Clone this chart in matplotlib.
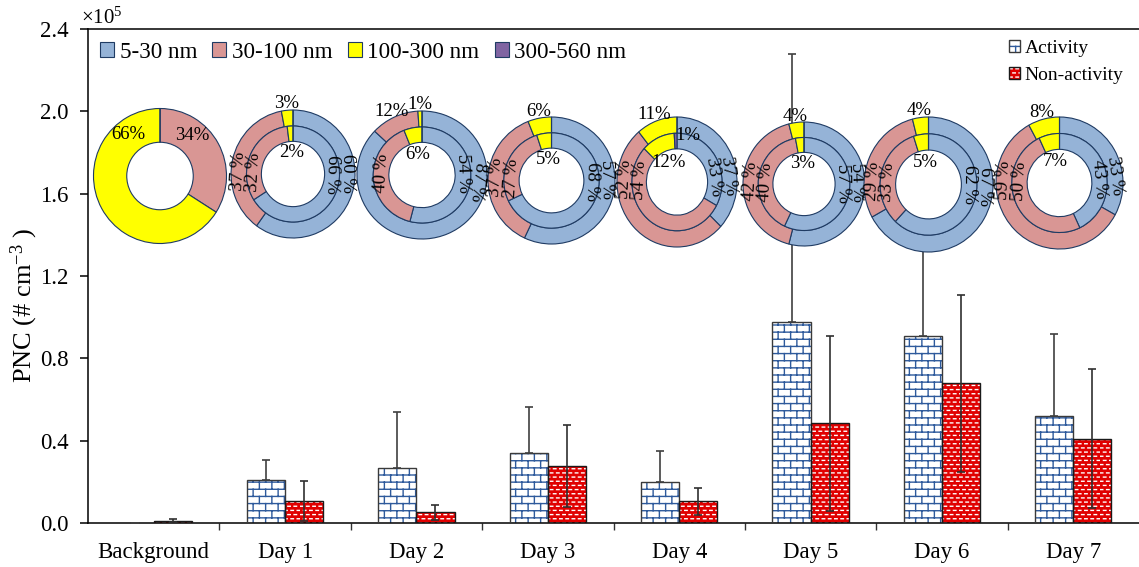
import warnings
import numpy as np
import matplotlib
matplotlib.use('Agg')
import matplotlib.pyplot as plt
from matplotlib import hatch as mhatch
from matplotlib.path import Path
from matplotlib.patches import Patch, Ellipse
from matplotlib.legend_handler import HandlerTuple

warnings.filterwarnings('ignore')

# PNC per day (x10^5 # cm-3), mean and standard deviation
categories = ['Background', 'Day 1', 'Day 2', 'Day 3', 'Day 4', 'Day 5', 'Day 6', 'Day 7']
act_mean = [0.002, 0.21, 0.266, 0.339, 0.20, 0.977, 0.91, 0.52]
act_sd = [0.0, 0.094, 0.274, 0.225, 0.151, 1.30, 0.90, 0.398]
non_mean = [0.012, 0.108, 0.052, 0.276, 0.105, 0.484, 0.68, 0.41]
non_sd = [0.006, 0.096, 0.037, 0.20, 0.067, 0.425, 0.43, 0.338]

# size distribution shares (%): 5-30, 30-100, 100-300, 300-560 nm
size_bins = ['5-30 nm', '30-100 nm', '100-300 nm', '300-560 nm']
bg_share = [0, 34, 66, 0]
outer_share = [[60, 37, 3, 0], [87, 12, 1, 0], [57, 37, 6, 0], [37, 52, 11, 0],
               [54, 42, 4, 0], [67, 29, 4, 0], [33, 59, 8, 0]]
inner_share = [[66, 32, 2, 0], [54, 40, 6, 0], [68, 27, 5, 0], [33, 54, 12, 1],
               [57, 40, 3, 0], [62, 33, 5, 0], [43, 50, 7, 0]]

size_colors = ['#95B3D7', '#D99694', '#FFFF00', '#8064A2']
navy = '#1F3B63'
brick_blue = '#2E5A9C'
red = '#E00000'


# brick and dash fill patterns for the bars
class BrickHatch(mhatch.HatchPatternBase):
    rows, cols = 14, 8

    def __init__(self, hatch, density):
        n, m = self.rows, self.cols
        self.num_vertices = 2 * (n + n * m + m) if 'b' in hatch else 0

    def set_vertices_and_codes(self, vertices, codes):
        n, m = self.rows, self.cols
        ys = (np.arange(n) + 0.5) / n
        segs = [((0.0, y), (1.0, y)) for y in ys]
        for r in range(n):
            lo = ys[r]
            hi = ys[r + 1] if r + 1 < n else 1.0
            xs = (np.arange(m) + 0.25 + 0.5 * (r % 2)) / m
            segs += [((x, lo), (x, hi)) for x in xs]
            if r == n - 1:
                segs += [((x, 0.0), (x, ys[0])) for x in xs]
        vertices[:] = np.array(segs).reshape(-1, 2)
        codes[0::2] = Path.MOVETO
        codes[1::2] = Path.LINETO


class DashHatch(mhatch.HatchPatternBase):
    rows, cols, length = 24, 16, 0.025

    def __init__(self, hatch, density):
        self.num_vertices = 2 * self.rows * self.cols if 'd' in hatch else 0

    def set_vertices_and_codes(self, vertices, codes):
        segs = []
        for r in range(self.rows):
            y = (r + 0.5) / self.rows
            for c in range(self.cols):
                x0 = (c + 0.05 + 0.5 * (r % 2)) / self.cols
                segs.append(((x0, y), (x0 + self.length, y)))
        vertices[:] = np.array(segs).reshape(-1, 2)
        codes[0::2] = Path.MOVETO
        codes[1::2] = Path.LINETO


mhatch._hatch_types.extend([BrickHatch, DashHatch])

plt.rcParams['font.family'] = ['Liberation Serif', 'DejaVu Serif']
plt.rcParams['mathtext.fontset'] = 'custom'
plt.rcParams['mathtext.rm'] = 'Liberation Serif'
plt.rcParams['mathtext.default'] = 'regular'
plt.rcParams['hatch.linewidth'] = 1.0

W, H = 1139, 567
fig = plt.figure(figsize=(W / 100, H / 100), dpi=100)
ax = fig.add_axes([88 / W, 44 / H, (W - 88) / W, 494 / H])

x = np.arange(len(categories))
w = 0.29
n = len(categories)

ax.bar(x - w / 2, act_mean, w, color='white', edgecolor=brick_blue, linewidth=0, hatch='b', zorder=2)
ax.bar(x - w / 2, act_mean, w, facecolor='none', edgecolor='#3a3a3a', linewidth=1.0, zorder=3)
ax.bar(x + w / 2, non_mean, w, color=red, edgecolor='white', linewidth=0, hatch='d', zorder=2)
ax.bar(x + w / 2, non_mean, w, facecolor='none', edgecolor='#1a1a1a', linewidth=1.0, zorder=3)

ax.errorbar(x - w / 2, act_mean, yerr=[np.zeros(n), act_sd], fmt='none', ecolor='#404040',
            elinewidth=1.2, capsize=3, capthick=1.2, zorder=4)
ax.errorbar(x + w / 2, non_mean, yerr=non_sd, fmt='none', ecolor='#303030',
            elinewidth=1.2, capsize=3, capthick=1.2, zorder=4)

ax.set_xlim(-0.5, n - 0.5)
ax.set_ylim(0, 2.4)
ax.set_yticks(np.arange(0, 2.41, 0.4))
ax.set_yticklabels([f'{v:.1f}' for v in np.arange(0, 2.41, 0.4)])
ax.set_xticks(np.arange(0.5, n - 1, 1.0))
ax.set_xticklabels([])
ax.set_xticks(x, minor=True)
ax.set_xticklabels(categories, minor=True)
ax.tick_params(axis='x', which='major', direction='out', length=5, width=1.0, color='#333333')
ax.tick_params(axis='x', which='minor', length=0, pad=14, labelsize=16.5)
ax.tick_params(axis='y', direction='out', length=6, width=1.1, pad=8, labelsize=16.5)
for side in ('left', 'bottom', 'top'):
    ax.spines[side].set_linewidth(1.1)
ax.spines['right'].set_visible(False)

fig.text(24 / W, 1 - 305 / H, 'PNC (# cm$^{-3}$ )', rotation=90, ha='center', va='center', fontsize=19)
fig.text(81 / W, 1 - 24 / H, '×10$^{5}$', ha='left', va='baseline', fontsize=15)

# size-bin legend and bar legend
size_handles = [Patch(facecolor=c, edgecolor=navy, linewidth=0.8) for c in size_colors]
leg1 = ax.legend(size_handles, size_bins, loc='center left', bbox_to_anchor=(0.0114, 0.953),
                 ncol=4, frameon=False, fontsize=16.7, handlelength=0.6, handleheight=0.6,
                 handletextpad=0.25, columnspacing=0.65, borderpad=0, borderaxespad=0)
ax.add_artist(leg1)
act_key = (Patch(facecolor='white', edgecolor=brick_blue, linewidth=0, hatch='b'),
           Patch(facecolor='none', edgecolor='#3a3a3a', linewidth=1.0))
non_key = (Patch(facecolor=red, edgecolor='white', linewidth=0, hatch='d'),
           Patch(facecolor='none', edgecolor='#1a1a1a', linewidth=1.0))
ax.legend([act_key, non_key], ['Activity', 'Non-activity'],
          handler_map={tuple: HandlerTuple(ndivide=1, pad=0)},
          loc='upper left', bbox_to_anchor=((1009 - 88) / 1051, (523 - 40) / 494),
          frameon=False, fontsize=14, handlelength=0.55, handleheight=0.55,
          handletextpad=0.25, labelspacing=0.5, borderpad=0, borderaxespad=0)

# doughnuts: centre and radii in pixels
donut_boxes = [(160, 176, 66.5, 67.5), (293, 174, 62, 64), (422, 175, 65, 64),
               (551.5, 180.5, 63.5, 63.5), (677, 182, 60, 65), (804, 184, 61, 62),
               (928.5, 184.5, 64.5, 67.5), (1059.5, 183, 63.5, 66)]
ring_kw = dict(edgecolor=navy, linewidth=0.8)
label_size = 13.5


def donut_axes(cx, cy, rx, ry):
    a = fig.add_axes([(cx - rx) / W, 1 - (cy + ry) / H, 2 * rx / W, 2 * ry / H])
    return a


def finish(a, hole):
    a.add_patch(Ellipse((0, 0), 2 * hole, 2 * hole, facecolor='white', edgecolor='none', zorder=0))
    a.set_aspect('auto')
    a.set_xlim(-1, 1)
    a.set_ylim(-1, 1)
    a.set_axis_off()


def put(a, r, th, s, rot=0):
    t = np.deg2rad(th)
    a.text(r * np.cos(t), r * np.sin(t), s, ha='center', va='center', rotation=rot,
           rotation_mode='anchor', fontsize=label_size, zorder=5)


bg_ax = donut_axes(*donut_boxes[0])
bg_ax.pie(bg_share, radius=1, startangle=90, counterclock=False, colors=size_colors,
          wedgeprops=dict(width=0.5, **ring_kw))
finish(bg_ax, 0.5)
bg_label_angle = {1: 51, 2: 128}
for k, ang in bg_label_angle.items():
    put(bg_ax, 0.78, ang, f'{bg_share[k]}%')

for d in range(len(outer_share)):
    a = donut_axes(*donut_boxes[d + 1])
    a.pie(outer_share[d], radius=1, startangle=90, counterclock=False, colors=size_colors,
          wedgeprops=dict(width=0.25, **ring_kw))
    a.pie(inner_share[d], radius=0.75, startangle=90, counterclock=False, colors=size_colors,
          wedgeprops=dict(width=0.24, **ring_kw))
    finish(a, 0.51)
    for ring, shares, rmid in (('outer', outer_share[d], 0.875), ('inner', inner_share[d], 0.63)):
        cum = 0
        for k, v in enumerate(shares):
            if v == 0:
                continue
            mid = 90 - 3.6 * (cum + v / 2)
            cum += v
            if k == 0:
                th = 0.15 * mid + 3
                put(a, rmid, th, f'{v} %', rot=th - 90)
            elif k == 1 and v >= 20:
                put(a, rmid, 177, f'{v} %', rot=87)
            elif ring == 'outer':
                put(a, 1.1, mid, f'{v}%')
            elif k == 3:
                put(a, 0.745, mid - 16, f'{v}%')
            else:
                put(a, 0.33, mid, f'{v}%')

fig.savefig('out.png', dpi=100)
